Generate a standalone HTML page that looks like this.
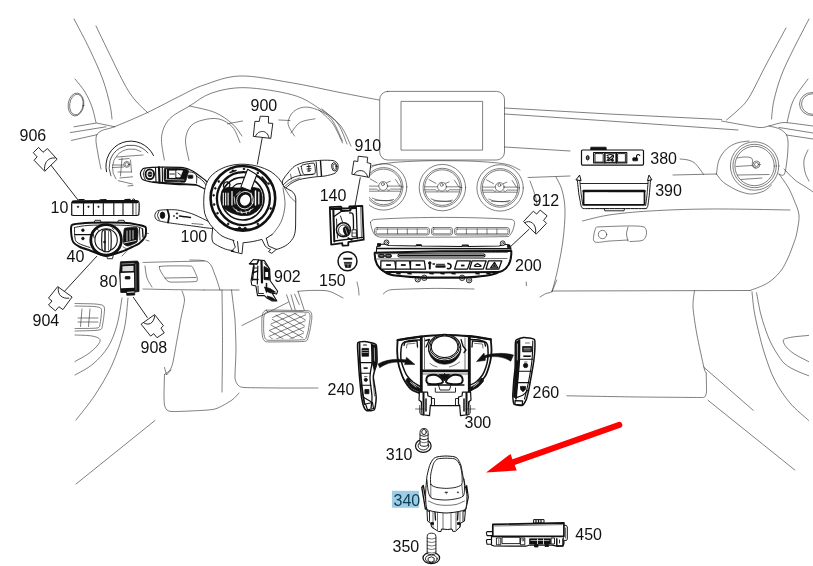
<!DOCTYPE html>
<html lang="en">
<head>
<meta charset="utf-8">
<title>Dashboard switches diagram</title>
<style>
html,body{margin:0;padding:0;background:#fff;}
body{width:813px;height:566px;overflow:hidden;font-family:"Liberation Sans",sans-serif;}
svg{display:block;will-change:transform;opacity:.999;}
.bg path,.bg line,.bg ellipse,.bg circle,.bg rect,.bg polyline{fill:none;stroke:#2a2a2a;stroke-width:.6;stroke-linecap:round;stroke-linejoin:round;}
.ld{stroke:#111;stroke-width:.9;fill:none;}
.lbl text{font-family:"Liberation Sans",sans-serif;font-size:16px;fill:#111;}
.con path{fill:#fff;stroke:#111;stroke-width:.9;stroke-linejoin:round;}
.con path.a{fill:none;}
.k{fill:#111;stroke:#111;stroke-width:.8;stroke-linejoin:round;}
.w{fill:#fff;stroke:#111;stroke-width:.9;stroke-linejoin:round;}
.n{fill:none;stroke:#111;stroke-width:.9;stroke-linejoin:round;stroke-linecap:round;}
.t{fill:none;stroke:#111;stroke-width:.6;stroke-linejoin:round;stroke-linecap:round;}
.wl{fill:none;stroke:#fff;stroke-width:.8;stroke-linecap:round;}
</style>
</head>
<body>
<svg width="813" height="566" viewBox="0 0 813 566">
<rect width="813" height="566" fill="#fff"/>

<!-- ===== BACKGROUND (car interior outline) ===== -->
<g class="bg" id="bg">
<!-- BG_LEFT_TOP -->
<path d="M74 19C76.7 24.2 85.2 39.8 90 50C94.8 60.2 99.7 70.8 103 80C106.3 89.2 108.5 98.5 110 105C111.5 111.5 111.7 116.7 112 119"/>
<path d="M96 26C98.3 30.8 105.2 45.2 110 55C114.8 64.8 120.8 77.5 125 85C129.2 92.5 131.2 95.3 135 100C138.8 104.7 145.8 110.8 148 113"/>
<path d="M75 79C76.7 81.2 82.2 87.3 85 92C87.8 96.7 90.2 101.9 92 107C93.8 112.1 95.3 119.9 96 122.5"/>
<ellipse cx="76" cy="104.500" rx="7.800" ry="11.500" transform="rotate(8 76 104.500)"/>
<ellipse cx="76.400" cy="104.500" rx="6.700" ry="10.400" transform="rotate(8 76 104.500)"/>
<path d="M74 126.8L96.5 123L114.8 126.8"/>
<path d="M70.3 132.6L106 126.8"/>
<path d="M71.5 140.4L97 134.7"/>
<path d="M101 169C100.5 166.5 98.8 159.2 98 154C97.2 148.8 95.5 141.8 96 138C96.5 134.2 97.8 132.9 101 131C104.2 129.1 107.2 129.6 115 126.5C122.8 123.4 136.7 117.6 147.5 112.5C158.3 107.4 170.6 100.6 180 96C189.4 91.4 194 88.3 204 85C214 81.7 225.7 76.4 240 76C254.3 75.6 273.3 79.8 290 82.5C306.7 85.2 325.2 89.6 340 92.5C354.8 95.4 372.5 98.8 379 100"/>
<path style="stroke-width:1;stroke:#1a1a1a" d="M106.5 171.7A25 25 0 0 1 153.5 155.5"/>
<path style="stroke-width:.8" d="M110.9 175.9A22 22 0 0 1 147.9 152.9"/>
<path d="M115.9 178.9A19 19 0 0 1 141 151.5"/>
<circle cx="126.8" cy="164.4" r="3"/>
<circle cx="126.8" cy="164.4" r="1.8"/>
<path d="M117 157L143 155"/>
<path d="M119 159.5L129 158.5"/>
<path d="M112.5 165L123.5 165"/>
<path d="M112.5 167.5L123.5 167"/>
<path d="M122 158L120.5 176"/>
<path d="M130.5 160L131.5 172"/>
<path d="M118 172L131.5 172"/>
<path d="M120 178L132.5 176.8"/>
<path d="M118.3 180.7L132.5 184"/>
<path d="M128 186L133 185.5"/>
<path d="M164.3 160C163.9 156.1 160.7 143.4 161.6 136.5C162.5 129.6 164.9 123.9 169.6 118.8C174.3 113.7 182.6 110.3 189.6 106C196.6 101.7 202.6 96 211.8 93C221 90 231.5 87.4 245 87.7C258.5 88 280.5 91.5 293 95C305.5 98.5 312.2 104 320 109C327.8 114 334.8 118.8 340 125C345.2 131.2 349.2 142.5 351 146"/>
<path d="M319 110C321.3 112.3 329.1 118.5 333 124C336.9 129.5 340.9 139.8 342.5 143"/>
<path d="M322 109C324.7 111.5 333.8 118.2 338 124C342.2 129.8 345.5 140.7 347 144"/>
<path d="M189 160.4C188.4 157 185.2 145.7 185.5 140C185.8 134.3 187.9 129.3 190.8 126C193.7 122.7 198.3 121.2 203 120C207.7 118.8 214.1 117.8 219 119C223.9 120.2 229 123.1 232.5 127C236 130.9 238.8 139.9 240 142.5"/>
<path d="M189.6 106C193.8 107.1 207.8 109.5 215 112.5C222.2 115.5 228 120.1 232.5 124C237 127.9 240.4 134 242 136"/>
<path d="M227.5 123.8L242.5 121"/>
<path d="M278.8 120L290 120.5"/>
<path d="M294.5 136C293.4 133.8 287.9 127.2 288 123C288.1 118.8 291.3 113.1 295 110.5C298.7 107.9 304.2 106.3 310 107.5C315.8 108.7 324.6 111.9 330 117.5C335.4 123.1 340.4 137.1 342.5 141"/>
<path d="M291 133C292.5 131.2 296 124.9 300 122.5C304 120.1 312.5 119.4 315 118.8"/>
<rect x="379.700" y="91.400" width="124.800" height="68.600" rx="8"/>
<rect x="401.400" y="101.400" width="81.200" height="48.700"/>
<!-- BG_LOWLEFT -->
<path d="M75 303.5C77.7 303.6 91.3 303.7 95 304C98.7 304.3 101.7 304.7 103 305.5C104.3 306.3 104.6 307.4 104.5 310C104.4 312.6 103.2 322.3 102.5 325C101.8 327.7 102.7 329.2 99 330C95.3 330.8 78.2 330.9 75 331"/>
<path d="M75 306C77.5 306.1 90.6 306.2 94 306.5C97.4 306.8 99.5 307.3 100.5 308C101.5 308.7 101.6 309.9 101.5 312C101.4 314.1 100.6 321.9 100 324C99.4 326.1 100.3 327.4 97 328C93.7 328.6 77.9 328.4 75 328.5"/>
<path d="M82 309L80.5 326.5"/>
<path d="M90 309L88.5 326.5"/>
<path d="M78 318L98 318"/>
<path d="M78 322L98 322"/>
<path d="M75 335C77.8 335.2 87.8 335.2 92 336C96.2 336.8 99.2 337.8 100 339.5C100.8 341.2 99 343.6 97 346C95 348.4 91.7 351.4 88 354C84.3 356.6 77.2 360.2 75 361.5"/>
<path d="M128 298C127.3 303.3 126.7 318.8 124 330C121.3 341.2 116.8 354.2 112 365C107.2 375.8 101 385.8 95 395C89 404.2 79.2 415.8 76 420"/>
<path d="M122 298C121.2 302.5 119.3 316.8 117 325C114.7 333.2 112 340.5 108 347C104 353.5 98.5 359.3 93 364C87.5 368.7 78 373.2 75 375"/>
<path d="M143 262.5C144.1 262.5 155.9 262.1 160 262C164.1 261.9 201.1 261.1 204 261"/>
<path d="M143 289C144.5 289 160.9 289.4 165 289.5C169.1 289.6 201.4 290 204 290"/>
<path d="M145 266C145.3 268 145.8 274.5 147 278C148.2 281.5 151.2 285.5 152 287"/>
<path d="M159.5 266.5C161.6 265.5 187.2 265.9 190 266C192.8 266.1 192.4 267.1 193 268C193.6 268.9 196.8 275.9 197 277C197.2 278.1 198.2 281.1 196 281.5C193.8 281.9 172.6 282.3 170 282C167.4 281.7 165.9 279.3 165 278C164.1 276.7 157.4 267.5 159.5 266.5Z"/>
<path d="M165 278L196 277.5"/>
<path d="M204 290L239 290"/>
<path d="M182 291C182.3 292.2 184.6 296.4 184.5 300C184.4 303.6 182 312.7 181 318C180 323.3 178.1 334.1 177 340C175.9 345.9 173.9 358 173 362C172.1 366 171.1 368.3 170 370C168.9 371.7 165.2 373.9 164.5 374.5"/>
<path d="M164.5 367.5L166.5 375L171 370"/>
<path d="M164.5 374.5C164.4 376.9 164 391.4 164 395C164 398.6 164.2 403.2 164.5 405C164.8 406.8 166.1 409.2 167 410C167.9 410.8 169.3 411.4 172 411.5C174.7 411.6 185 411.3 190 411C195 410.7 210.1 410.3 215 409C219.9 407.7 229.2 401.9 232 400C234.8 398.1 238.2 393.8 239 393"/>
<path d="M155 420.5L76 484"/>
<path d="M190 260C193 260.3 203.8 259.5 208 262C212.2 264.5 213 270.3 215 275C217 279.7 219.2 287.5 220 290"/>
<path d="M222 290C222.1 298.3 222.5 323 222.5 340C222.5 357 222.1 383.3 222 392"/>
<path d="M231.5 290C231.8 293 234.6 314 235 320C235.4 326 236 344.2 236 350C236 355.8 234.8 374.5 235 378C235.2 381.5 237.1 384.1 238 385C238.9 385.9 239.8 387.2 244 387.5C248.2 387.8 272.6 387.9 280 388C287.4 388.1 314.2 388 318 388"/>
<path d="M242 325.5L288.3 302.2"/>
<path d="M266.5 310.2C268.9 309.9 282.8 310.2 287 310.3C291.2 310.4 305.9 310.5 308.4 310.8C310.8 311.1 311.2 312.8 311.5 313.5C311.8 314.2 311.9 316.7 311.8 318.3C311.7 319.9 310.5 327.8 310 330C309.5 332.2 307.9 339 307.2 340.1C306.5 341.2 305.2 341.3 303 341.5C300.8 341.7 288.6 341.8 285 341.8C281.4 341.8 268.7 342.1 266.5 341.8C264.3 341.5 263.5 339.6 263 338.5C262.5 337.4 262 332.9 261.9 330.9C261.8 328.9 261.8 320.1 261.9 318.3C262 316.5 262.5 313.8 263 313C263.5 312.2 264.1 310.5 266.5 310.2Z"/>
<path d="M267.5 311.8C269.7 311.6 283 311.8 287 311.8C291 311.9 305.1 312 307.4 312.3C309.7 312.6 309.5 313.9 309.8 314.5C310.1 315.1 310.1 316.9 310 318.5C309.9 320.1 308.7 328 308.3 330C307.9 332 306.4 337.5 305.8 338.5C305.2 339.5 304.6 339.6 302.5 339.8C300.4 340 288.5 340.2 285 340.2C281.5 340.2 269.5 340.5 267.5 340.2C265.5 339.9 265.1 338.4 264.7 337.5C264.3 336.6 263.8 332.8 263.7 330.9C263.6 329 263.6 320.2 263.7 318.5C263.8 316.8 264.3 314.7 264.7 314C265.1 313.3 265.3 312 267.5 311.8Z"/>
<path d="M272 311.3L303 311.5" style="stroke-width:1.200;stroke:#888"/>
<clipPath id="pedalclip"><path d="M272.500 316.500L279 312.800L306.200 313.500L303.200 338.600L271.500 339L268 335.500Z"/></clipPath>
<path clip-path="url(#pedalclip)" d="M262 280.5 L312 311M262 287 L312 317.5M262 293.5 L312 324M262 300 L312 330.5M262 306.5 L312 337M262 313 L312 343.5M262 319.5 L312 350M262 326 L312 356.5M262 332.5 L312 363M262 339 L312 369.5M262 345.5 L312 376M262 352 L312 382.5M262 322 L312 300.5M262 327.8 L312 306.3M262 333.6 L312 312.1M262 339.4 L312 317.9M262 345.2 L312 323.7M262 351 L312 329.5M262 356.8 L312 335.3M262 362.6 L312 341.1M262 368.4 L312 346.9M262 374.2 L312 352.7M262 380 L312 358.5"/>
<path d="M286.6 294.8L291.7 309.7"/>
<path d="M291.1 294.8L295.2 309.7"/>
<path d="M294.6 294.2L299.2 304.5"/>
<path d="M298 291.3L304.3 310.2"/>
<path d="M298 291.3C299.2 291.2 302.2 290.9 305.5 290.7C308.8 290.5 313.9 290.3 318 290.4C322.1 290.5 325.8 290.2 330 291.5C334.2 292.8 340.8 296.9 343 298"/>
<path d="M357 282C357.2 283.2 358.2 286.8 358.5 289C358.8 291.2 358.9 294 359 295"/>
<path d="M383.3 294C383.7 293.6 385.8 291.5 387 291C388.2 290.5 388.4 289.8 394 289.5C399.6 289.2 425.4 288.5 434.7 288.4C444 288.3 469.4 288.9 474 289"/>
<path d="M526.2 282L526.4 285.7"/>
<!-- BG_MID -->
<clipPath id="v1clip"><rect x="369" y="155" width="60" height="60"/></clipPath>
<g clip-path="url(#v1clip)">
<circle cx="383.6" cy="186.9" r="23.2"/>
<circle cx="383.6" cy="186.9" r="19.3"/>
<circle cx="383.6" cy="186.9" r="17.8"/>
<circle cx="383.2" cy="186" r="4.4"/>
<circle cx="382.9" cy="184.1" r="1.5"/>
<path d="M366.1 186.1L378.6 186.1"/>
<path d="M387.6 186.1L401.1 186.1"/>
<path d="M366.1 189.1L376.6 189.1L378.1 190.4L379.6 189.9"/>
<path d="M387.1 189.9L389.1 190.4L390.6 189.1L401.1 189.1"/>
<path d="M366.8 191.2L400.4 191.2"/>
<path d="M370.1 178.9L377.1 182.7"/>
<path d="M386.6 182.7L390.3 181.2"/>
<path d="M395.6 179.5L399.8 185.9"/>
<path d="M372.3 198.1C373.4 198.4 376.2 199.8 378.6 200.2C381 200.6 384.1 200.8 386.6 200.7C389.1 200.6 392.4 199.6 393.6 199.4"/>
<path d="M374.9 200.2L392.4 200.8"/>
</g>
<g>
<circle cx="442.4" cy="187.6" r="23.2"/>
<circle cx="442.4" cy="187.6" r="19.3"/>
<circle cx="442.4" cy="187.6" r="17.8"/>
<circle cx="442" cy="186.7" r="4.4"/>
<circle cx="441.7" cy="184.8" r="1.5"/>
<path d="M424.9 186.8L437.4 186.8"/>
<path d="M446.4 186.8L459.9 186.8"/>
<path d="M424.9 189.8L435.4 189.8L436.9 191.1L438.4 190.6"/>
<path d="M445.9 190.6L447.9 191.1L449.4 189.8L459.9 189.8"/>
<path d="M425.6 191.9L459.2 191.9"/>
<path d="M428.9 179.6L435.9 183.4"/>
<path d="M445.4 183.4L449.1 181.9"/>
<path d="M454.4 180.2L458.6 186.6"/>
<path d="M431.1 198.8C432.1 199.1 435 200.5 437.4 200.9C439.8 201.3 442.9 201.5 445.4 201.4C447.9 201.3 451.2 200.3 452.4 200.1"/>
<path d="M433.7 200.9L451.2 201.5"/>
</g>
<g>
<circle cx="500.1" cy="187.9" r="23.2"/>
<circle cx="500.1" cy="187.9" r="19.3"/>
<circle cx="500.1" cy="187.9" r="17.8"/>
<circle cx="499.7" cy="187" r="4.4"/>
<circle cx="499.4" cy="185.1" r="1.5"/>
<path d="M482.6 187.1L495.1 187.1"/>
<path d="M504.1 187.1L517.6 187.1"/>
<path d="M482.6 190.1L493.1 190.1L494.6 191.4L496.1 190.9"/>
<path d="M503.6 190.9L505.6 191.4L507.1 190.1L517.6 190.1"/>
<path d="M483.3 192.2L516.9 192.2"/>
<path d="M486.6 179.9L493.6 183.7"/>
<path d="M503.1 183.7L506.8 182.2"/>
<path d="M512.1 180.5L516.3 186.9"/>
<path d="M488.8 199.1C489.9 199.4 492.7 200.8 495.1 201.2C497.5 201.6 500.6 201.8 503.1 201.7C505.6 201.6 508.9 200.6 510.1 200.4"/>
<path d="M491.4 201.2L508.9 201.8"/>
</g>
<path d="M372 165.5C375.8 165 387 163.1 395 162.3C403 161.6 411.7 161.3 420 161C428.3 160.7 435.8 160.6 445 160.7C454.2 160.8 465 160.8 475 161.3C485 161.9 497.5 162.6 505 164C512.5 165.4 517.5 169 520 170"/>
<path d="M370.500 222.500C371 220.500 372.500 219.600 374.800 219.400C400 217.800 425 217.400 443.700 217.400C465 217.400 490 217.900 510.700 219.400C513 219.600 514.400 220.500 514.600 222.500C514 229 511.500 234 508.700 236.500C490 237.200 400 237.400 379.800 237.100C377 236.500 375 235.300 373.900 233.600C372 230 371 226.500 370.500 222.500Z"/>
<rect x="374.500" y="227.500" width="55" height="7.500" rx="2.500"/>
<rect x="376" y="229" width="52" height="4.800" rx="1.500"/>
<rect x="431.500" y="227.500" width="21" height="7.500" rx="2"/>
<rect x="433" y="229" width="18" height="4.800" rx="1"/>
<rect x="454.500" y="227.500" width="55" height="7.500" rx="2.500"/>
<rect x="456" y="229" width="52" height="4.800" rx="1.500"/>
<path d="M387.6 229L387.6 233.8"/>
<path d="M397.5 229L397.5 233.8"/>
<path d="M407.3 229L407.3 233.8"/>
<path d="M417.2 229L417.2 233.8"/>
<path d="M466.4 229L466.4 233.8"/>
<path d="M477.2 229L477.2 233.8"/>
<path d="M487 229L487 233.8"/>
<path d="M496.9 229L496.9 233.8"/>
<!-- BG_RIGHT -->
<path d="M504.5 108L609 114L721.5 119.5"/>
<path d="M504.5 114L609 121L738 130"/>
<path d="M504.5 147L570 151"/>
<path d="M721.5 121C725.2 121.7 754.2 127 759 127.5C763.8 128 766.5 126.5 769 126C771.5 125.5 779.6 122.5 784 122.5C788.4 122.5 810.1 125.7 813 126"/>
<path d="M769 126C771.1 126.7 778.3 127.5 781.5 130C784.7 132.5 787.4 133.9 788 141C788.6 148.1 786.5 167 785 172.5C783.5 178 780 173.8 779 174"/>
<path d="M779 127.5L813 133"/>
<path d="M786.5 135L813 139"/>
<path d="M786 28C782.8 33.8 773.2 51.4 767 63C760.8 74.6 753.8 89.7 749 97.5C744.2 105.3 741.8 106.2 738 110C734.2 113.8 728.4 118.3 726.5 120"/>
<path d="M809 19C806.3 24.2 797.6 40.7 793 50C788.4 59.3 784.7 66.7 781.5 75C778.3 83.3 775.7 92.7 774 100C772.3 107.3 771.9 115.8 771.5 119"/>
<path d="M808 79C806.2 81.5 799.8 89.7 797 94C794.2 98.3 793.2 100.2 791.5 105C789.8 109.8 787.8 119.6 787 122.5"/>
<ellipse cx="812" cy="104" rx="12.500" ry="11.500"/>
<ellipse cx="813" cy="104" rx="11.500" ry="10.300"/>
<circle cx="754.6" cy="166" r="24.2"/>
<circle cx="754.6" cy="166" r="21.7"/>
<circle cx="754.6" cy="166" r="19.7"/>
<circle cx="756.5" cy="164.5" r="3.5"/>
<circle cx="756.5" cy="164.5" r="2"/>
<path d="M737 158C738.3 157.8 742.5 156.9 745 157C747.5 157.1 750.8 157 752 158.5C753.2 160 751.8 164.3 752.5 166C753.2 167.7 755.4 168.1 756 168.5"/>
<path d="M736 166.5L752 165.5"/>
<path d="M737.5 175L769 174.5"/>
<path d="M741 179.5L762 178"/>
<path d="M716.5 174C716.9 171.7 717.3 164.2 719 160C720.7 155.8 723.5 151.8 726.5 149C729.5 146.2 733.2 144.3 737 143C740.8 141.7 747 141.3 749 141"/>
<path d="M716.5 174C717.4 175.2 719.9 179 722 181C724.1 183 726 184.2 729 186C732 187.8 736.2 190.2 740 191.5C743.8 192.8 747.5 194.1 751.5 194C755.5 193.9 760.7 192.5 764 191C767.3 189.5 770.2 186 771.5 185"/>
<path d="M673 175L716.5 174"/>
<path d="M680 159C681.3 159.2 685.7 159.4 688 160C690.3 160.6 692.2 161.2 694 162.5C695.8 163.8 697.4 166 699 168C700.6 170 702.8 173.4 703.5 174.5"/>
<path d="M779 174C780.5 176.2 785.5 182.7 788 187C790.5 191.3 792.2 195.3 794 200C795.8 204.7 798.5 209.7 799 215C799.5 220.3 797.8 227.4 797 232C796.2 236.6 795.5 238.2 794 242.5C792.5 246.8 790.1 253.4 788 258C785.9 262.6 784 266.5 781.5 270C779 273.5 775.9 276.5 773 279C770.1 281.5 767.8 283.1 764 285C760.2 286.9 752.3 289.6 750 290.5"/>
<path d="M784 169C785.8 170.8 791.2 176.9 795 180C798.8 183.1 803.5 185.5 806.5 187.5C809.5 189.5 811.9 191.2 813 192"/>
<path d="M808 150C807.3 151.7 804.5 156.3 804 160C803.5 163.7 804.2 168.5 805 172C805.8 175.5 808.3 179.5 809 181"/>
<path d="M582.5 221C586.9 220 597.8 216.7 609 215C620.2 213.3 633.3 212 650 211C666.7 210 685.7 209.2 709 209C732.3 208.8 776.5 209.8 790 210"/>
<path d="M597 227C601.7 226.8 617.5 226.1 625 226C632.5 225.9 638.5 225.9 642 226.5C645.5 227.1 645.3 227.9 646 229.5C646.7 231.1 646.7 234.2 646 236C645.3 237.8 644.7 239.6 642 240.5C639.3 241.4 632 241.3 630 241.5"/>
<path d="M628 227C627.8 228.2 626.5 231.7 626.5 234C626.5 236.3 627.8 239.8 628 241"/>
<path d="M596 227.5C595.7 228.6 594.2 231.6 594 234C593.8 236.4 592.3 240.8 595 242C597.7 243.2 604.5 241.3 610 241C615.5 240.7 625 240.2 628 240"/>
<circle cx="602.5" cy="234.5" r="4.2"/>
<path d="M528 177.5L570 176"/>
<path d="M556 177C557 179.2 560.5 184.5 562 190C563.5 195.5 564.8 201.7 565 210C565.2 218.3 564.2 230.3 563 240C561.8 249.7 559.8 259.3 558 268C556.2 276.7 553 288 552 292"/>
<path d="M530 181C530.8 183.3 533.8 191 535 195C536.2 199 536.7 203.3 537 205"/>
<path d="M551.8 291L750 290.5"/>
<path d="M540 297C540.6 296.6 544.8 294.1 546 293.5C547.2 292.9 550.7 292.9 551.8 291.5C552.8 290.1 556.3 281.1 556.8 280"/>
<path d="M694.5 290.7C694.3 292.9 692.7 301.1 693 307C693.3 312.9 695.5 327 697 335C698.5 343 702.7 362.2 703.9 367.3C705.1 372.4 705.9 372.2 706.2 373"/>
<path d="M706.2 373C706.2 374.6 706.6 390 706.5 392C706.4 394 705.5 396 705 396.5C704.5 397 705.4 397.5 700 397.5C694.6 397.5 651.1 397.1 640 397C628.9 396.9 573 395.9 566.9 395.8"/>
<path d="M703.9 367.3L753.2 410.3"/>
<path d="M707.9 400.2L794.8 470"/>
<path d="M752 291.8C752.3 294.8 753 303.6 754 310C755 316.4 756.5 322.9 758.3 330.4C760.1 337.9 762.2 346.6 765 355C767.8 363.4 770.8 372.7 775 380.7C779.2 388.7 784.4 396.4 790 403C795.6 409.6 805.5 417.5 808.6 420.4"/>
<path d="M756.6 292.8C757.3 296.5 759 307.6 761 315C763 322.4 765.8 330.8 768.3 337C770.8 343.2 773.2 347.5 776 352C778.8 356.5 781.5 360.8 785 364C788.5 367.2 793.1 369.1 797 371C800.9 372.9 806.7 374.9 808.6 375.7"/>
<path d="M808.6 335.4C804.6 335.9 793.5 336.5 788.5 337.8C783.5 339.1 782.8 339.1 783.5 342C784.2 344.9 786.9 348.3 791.9 352.2C796.9 356.1 805.3 359.7 808.6 361.6"/>
</g>
<!-- ===== COMPONENTS ===== -->
<g id="components">
<g id="c100">
<path class="w" d="M140.4 173.7C140.4 172.7 141.1 171.1 141.5 170.5C141.9 169.9 142.7 168.7 143.9 168.3C145.1 167.9 150.1 167.4 152 167.3C153.9 167.2 157 167.2 160.6 167.2C164.2 167.2 179.4 167.1 183.2 167.6C187 168.1 191.3 170.4 193.1 171.3C194.9 172.2 197.4 174.3 199 175.5C200.6 176.7 205.9 180.2 207 182C208.1 183.8 209.2 189.9 208.5 190.5C207.8 191.1 202.6 187.7 201 187C199.4 186.3 198.1 185.1 195.1 184.8C192.1 184.5 180.2 184.6 175.4 184.3C170.6 184 157.2 182.7 153.7 182.3C150.2 181.9 146.4 180.9 145 180.5C143.6 180.1 142.4 179.5 141.9 178.7C141.4 177.9 140.4 174.7 140.4 173.7Z" style="stroke-width:1.200"/>
<path class="n" d="M145.3 168.5C145 169.4 143.3 172.1 143.3 174C143.3 175.9 145.1 179 145.5 180"/>
<ellipse class="w" cx="149.800" cy="174.300" rx="4.300" ry="4.900" style="stroke-width:1.900"/>
<ellipse class="k" cx="150" cy="174.300" rx="2" ry="2.500"/>
<path class="wl" d="M148.8 174.3L151.3 174.3" style="stroke-width:.6"/>
<path class="n" d="M155.5 167.5L156 182" style="stroke-width:1.100"/>
<path class="n" d="M159 167.3L159.5 182.5" style="stroke-width:2.200"/>
<path class="n" d="M162.3 167.3L162.5 183" style="stroke-width:1.100"/>
<path class="k" d="M164.5 168.5C165 167.9 174 168.3 175 168.3C176 168.3 184.3 168.9 185 169C185.7 169.1 188.5 170.2 188.5 170.8C188.5 171.5 185.9 181.4 185.2 182C184.5 182.6 176 181.8 175 181.8C174 181.8 165 181.9 164.5 181.2C164 180.5 164 169.1 164.5 168.5Z"/>
<rect class="wl" x="169.5" y="171" width="5.5" height="6.5" style="fill:#fff"/>
<path class="n" d="M170 174L174.5 174" style="stroke-width:.9"/>
<path class="wl" d="M177 170.8L182.5 170.8L180 177L177 177Z" style="fill:#fff"/>
<path class="n" d="M178 173L180.5 175" style="stroke-width:.9"/>
<path class="wl" d="M166 179.5L184 180" style="stroke-width:.6"/>
<path class="wl" d="M166.5 169.5L166.5 179" style="stroke-width:.7"/>
<path class="n" d="M186.5 172C187.6 172.1 191.3 171.8 193 172.5C194.7 173.2 195.9 174.2 196.5 176C197.1 177.8 196.5 181.8 196.5 183"/>
<rect class="k" x="188.2" y="175.2" width="4.6" height="3.1" rx="0.5"/>
<path class="n" d="M196.5 176C197.6 176.8 201.2 179.2 203 181C204.8 182.8 206.3 185.6 207 186.5"/>
<path class="n" d="M153 182L196 184.7" style="stroke-width:1.500"/>
<path class="w" d="M154.8 215.5C154.8 214.2 156.1 211.6 157.6 210.8C159.1 210 163.4 209.9 166 209.8C168.6 209.7 174 209.5 177.4 210C180.8 210.5 187.7 212.3 191.5 213.6C195.3 214.9 202.6 218.5 205.6 220C208.6 221.5 212.9 223.4 214 224.5C215.1 225.6 216.5 228.3 213.5 228.5C210.5 228.7 197.3 226.5 191.5 225.8C185.7 225.1 174.8 223.7 170.3 223C165.8 222.3 159.7 221.3 157.6 220.3C155.5 219.3 154.8 216.8 154.8 215.5Z"/>
<path class="n" d="M159 211.5C158.8 212.2 157.4 214.1 157.5 215.5C157.6 216.9 159.2 219.2 159.5 220"/>
<ellipse class="k" cx="162.500" cy="215.300" rx="2.300" ry="3.200"/>
<path class="n" d="M167.5 210C167.8 211 168.9 213.9 169 216C169.1 218.1 168.2 221.4 168 222.5" style="stroke-width:1.8"/>
<circle class="k" cx="177" cy="213.5" r="0.7"/>
<circle class="k" cx="177" cy="218" r="0.7"/>
<circle class="k" cx="174" cy="216" r="0.5"/>
<path class="n" d="M179.5 216L191 217.5" style="stroke-width:1.5;stroke-dasharray:2 1"/>
<path class="t" d="M192 223.5L203 224.5"/>
<path class="w" d="M282.5 181C283 178.9 286.4 175 288 173C289.6 171 292.4 167.6 294.6 166.2C296.8 164.8 300.9 163.1 304.4 162.3C307.9 161.5 317.4 160.5 321.2 160.3C325 160.1 330.8 160.2 333 160.6C335.2 161 336.8 162.4 337.5 163.5C338.2 164.6 338.3 167.2 338 168.5C337.7 169.8 336.7 172.2 335 173.2C333.3 174.2 327.8 175.5 325 176C322.2 176.5 317.7 176.5 314.3 177C310.9 177.5 302.6 178.6 299.5 179.5C296.4 180.4 293 182.3 291 183.5C289 184.7 285.6 188.8 284.5 188.5C283.4 188.2 282 183.1 282.5 181Z"/>
<path class="n" d="M283.5 184.5C284.8 183.5 288.2 180 291 178.5C293.8 177 296.3 176.2 300 175.5C303.7 174.8 310.8 174.7 313 174.5"/>
<path class="t" d="M284.5 186.5C285.8 185.6 289.4 182.4 292 181C294.6 179.6 298.7 178.5 300 178"/>
<path class="n" d="M301.2 166.5C301.2 165.9 301.9 165.1 303 164.8C304.1 164.5 313 162.6 314 163.3C315 164 315.8 172.6 315 173.5C314.2 174.4 305.5 174.8 304.5 174.7C303.5 174.6 302.8 172.7 302.5 172C302.2 171.3 301.2 167.1 301.2 166.5Z"/>
<path class="n" d="M298 167.5L300.5 175"/>
<path class="t" d="M290.5 174L291.5 179"/>
<path class="n" d="M316.2 162L317.2 175.5"/>
<path class="n" d="M320.5 161L321.5 176" style="stroke-width:1.4"/>
<ellipse class="n" cx="334.300" cy="166.800" rx="2.600" ry="4.200" transform="rotate(-8 334.300 166.800)"/>
<ellipse class="t" cx="334.500" cy="166.800" rx="1.500" ry="2.800" transform="rotate(-8 334.300 166.800)"/>
<path class="n" d="M307 166.5L310.5 166.3"/>
<path class="n" d="M307 169L311 168.7"/>
<path class="n" d="M308.8 165L309 171.5"/>
<path class="n" d="M307.5 171L310.5 170.7"/>
<path class="w" d="M203.800 199C204 186 208 178.500 212.700 174.400C220 168 230 164.500 240.900 164.200C252 164 263 167 271 171.800C277 175.500 281.500 181 284 187L291.500 191C294.500 193 295.800 196 295.800 200L295.600 226C295.500 232 294.500 236 292.900 238.300C291 241.500 288.500 244 285.100 246C282 247.700 279 248.800 276.300 249.400L271.800 253.300L268.500 251.600L270.700 249.400C268 248.500 266.500 247.500 265.200 246L261.900 239.400C256 241 250 242.300 243.100 242.700L242 253.800L230.900 251.100L234.200 251.600L233 250.500C229 250.300 226 249.500 223.100 248.200C219 246.500 215.500 244.500 213.200 242.700C212 240.500 211.800 238 212 235L212.700 227.400C209 223.500 206.500 219 204.700 213.300C203.800 208 203.600 204 203.800 199Z"/>
<path class="t" d="M283 188C283.3 190.8 285.3 199.3 285 205C284.7 210.7 283.2 217 281 222C278.8 227 273.5 232.8 272 235"/>
<path class="t" d="M284 187C285 188.6 288.1 194 290 196.5C291.9 199 294.7 201.1 295.6 202"/>
<path class="n" d="M212.7 227.4C214.2 228.8 218.4 233.8 222 236C225.6 238.2 232 239.8 234 240.5"/>
<path class="n" d="M266.3 238.3L272 234.5"/>
<path class="n" d="M233.1 240.5L235.3 247.1L232 250.8"/>
<path class="n" d="M237.5 241.6L238.6 252"/>
<path class="n" d="M266.3 238.3L268.5 246L276.3 249.4"/>
<circle class="n" cx="242.9" cy="198.3" r="32.3" style="stroke-width:2.600;fill:#fff"/>
<circle class="n" cx="243.4" cy="198.6" r="26.5" style="stroke-width:2.300"/>
<circle class="n" cx="242.7" cy="198.7" r="21.3" style="stroke-width:1.700"/>
<circle class="k" cx="214.1" cy="204.5" r="0.9"/>
<circle class="k" cx="213.7" cy="195.3" r="0.9"/>
<circle class="k" cx="215.3" cy="188.3" r="0.9"/>
<circle class="k" cx="218.8" cy="181.5" r="0.9"/>
<circle class="k" cx="232.9" cy="170.7" r="0.9"/>
<circle class="k" cx="244" cy="168.9" r="0.9"/>
<circle class="k" cx="257.8" cy="172.9" r="0.9"/>
<circle class="k" cx="268.5" cy="183.7" r="0.9"/>
<circle class="k" cx="270.7" cy="208.5" r="0.9"/>
<circle class="k" cx="257.8" cy="223.9" r="0.9"/>
<circle class="k" cx="228.2" cy="223.9" r="0.9"/>
<circle class="k" cx="217.5" cy="213.2" r="0.9"/>
<path class="n" d="M234 229L250 229.6" style="stroke-width:2.200"/>
<circle class="k" cx="239.5" cy="228.2" r="1.3"/>
<circle class="k" cx="245.1" cy="228.5" r="1.3"/>
<path class="n" d="M219.5 220L227.5 226.5" style="stroke-width:1.800"/>
<path class="n" d="M262 177L267 183" style="stroke-width:1.600"/>
<path class="n" d="M230 172.5L236 170.5" style="stroke-width:1.500"/>
<path class="k" d="M221 196C221.1 194.5 221.7 191 222.5 190C223.3 189 226.2 187.7 228 187.5C229.8 187.3 235.2 188 238 188C240.8 188 249.5 187.4 252 187.5C254.5 187.6 258.3 188 259.5 189C260.7 190 261.8 194.1 262 196C262.2 197.9 262.1 203.2 261.5 205C260.9 206.8 258.3 209.8 257 211C255.7 212.2 251.9 214.5 250 215C248.1 215.5 243.1 215.7 241 215.5C238.9 215.3 233.9 213.8 232 213C230.1 212.2 225.7 209.7 224.5 208.5C223.3 207.3 221.9 204.5 221.5 203C221.1 201.5 220.9 197.5 221 196Z"/>
<path class="n" d="M223.5 187C223.6 186.4 223.3 184.3 224 183.5C224.7 182.7 226.5 181.8 227.5 182C228.5 182.2 229.9 183.2 230 184.5C230.1 185.8 228.3 188.7 228 189.5" style="stroke-width:1.300"/>
<path class="n" d="M231 189C231.8 188.2 234.3 185.4 236 184.5C237.7 183.6 240.2 183.7 241 183.5" style="stroke-width:1.300"/>
<path class="wl" d="M223.3 193L223.3 205" style="stroke-width:1.100"/>
<path class="wl" d="M225.7 193L225.7 205" style="stroke-width:1.100"/>
<path class="wl" d="M228.1 193L228.1 205" style="stroke-width:1.100"/>
<path class="wl" d="M232 191.5L232 205" style="stroke-width:1.200"/>
<path class="wl" d="M255.5 191L255.5 205" style="stroke-width:1.500"/>
<path class="wl" d="M258.8 192L258.8 204" style="stroke-width:1.200"/>
<path class="wl" d="M233 207.5C233.8 208.2 235.8 210.7 238 211.5C240.2 212.3 243.5 212.7 246 212.2C248.5 211.7 251.8 209.1 253 208.5"/>
<path class="wl" d="M236.5 195L240 191.5"/>
<path class="wl" d="M234.2 197L235 204"/>
<path class="wl" d="M251 193L252.2 203"/>
<path class="wl" d="M236 209.5L237.5 212"/>
<path class="wl" d="M241 211L242 213.5"/>
<path class="wl" d="M246 211L246.5 213.5"/>
<path class="wl" d="M250.5 209.5L249.5 212"/>
<ellipse class="wl" cx="245" cy="200.200" rx="8.300" ry="8.800" transform="rotate(20 245 200.200)"/>
<ellipse class="w" cx="245.100" cy="200.100" rx="5.600" ry="6.300" transform="rotate(25 245.100 200.100)" style="stroke-width:1.300"/>
<path class="w" d="M247.6 169.2L256.8 174.7L250.7 190.8L240.8 187.1Z" style="stroke-width:1.100"/>
</g>
<g id="c10">
<path class="w" d="M72.5 201.5C72.7 201.3 71.8 200.8 75 200.8C78.2 200.8 132.8 200.5 136 200.6C139.2 200.7 138.6 201.7 138.8 202C139 202.3 139.2 205.4 139.2 206C139.2 206.6 138.9 213 138.8 213.5C138.7 214 139.8 215.3 136.5 215.4C133.2 215.5 76.7 215.5 73.5 215.4C70.3 215.3 71.9 214.1 71.8 213.5C71.7 212.9 71.7 204.6 71.7 204C71.7 203.4 72.3 201.7 72.5 201.5Z" style="stroke-width:1.200"/>
<path class="n" d="M73 202.2L137 202" style="stroke-width:2.600"/>
<path class="n" d="M83.5 203.5L83.5 214.5" style="stroke-width:1.100"/>
<path class="n" d="M93.4 203.5L93.4 214.5" style="stroke-width:1.100"/>
<path class="n" d="M103.3 203.5L103.3 214.5" style="stroke-width:1.100"/>
<path class="n" d="M113.8 203.5L113.8 214.5" style="stroke-width:1.100"/>
<path class="n" d="M123 203.5L123 214.5" style="stroke-width:1.100"/>
<path class="n" d="M132.9 203.5L132.9 214.5" style="stroke-width:1.100"/>
<circle class="k" cx="78" cy="206.8" r="0.7"/>
<circle class="k" cx="88.5" cy="206.8" r="0.7"/>
<circle class="k" cx="98.5" cy="206.8" r="0.7"/>
<path class="t" d="M136 203.5L136 214.5"/>
<path class="n" d="M79 199.8L84 199.6" style="stroke-width:1.400"/>
<path class="n" d="M100 199.8L106 199.6" style="stroke-width:1.200"/>
<path class="n" d="M125 199.6L130 199.5" style="stroke-width:1.400"/>
<circle class="n" cx="133.5" cy="199.8" r="1"/>
</g>
<g id="c40">
<path class="n" d="M94 222.5L95 220.3L100.5 220.3L101 222.5"/>
<path class="n" d="M117.5 222.5L118.5 220.3L124 220.3L124.5 222.5"/>
<path class="n" d="M106.4 255L107.5 258.7L112.5 258.7L113.5 254"/>
<path class="w" d="M71.2 227C71.4 225.8 71 224.9 73 224.5C75 224.1 85.8 223 90.9 222.8C96 222.6 119.5 222.6 124.3 222.8C129.1 223 137 224.6 139.1 225C141.2 225.4 144.8 226.5 145.5 227.1C146.2 227.7 146 230.1 146 231C146 231.9 146 235.2 145.3 236.5C144.6 237.8 140.6 242.3 139.1 243.5C137.6 244.7 131.7 247.2 130 248C128.3 248.8 124.4 250.7 122 251.5C119.6 252.3 109.2 256.1 106 256C102.8 255.9 92.6 251.4 90 250.5C87.4 249.6 81.7 247.8 80 247C78.3 246.2 74.3 243.6 73.5 242.5C72.7 241.4 71.7 237.6 71.5 236C71.3 234.4 71 228.2 71.2 227Z" style="stroke-width:2"/>
<path class="n" d="M74.5 227.5C77.1 227.1 81.8 225.7 90 225.3C98.2 224.9 116 225 124 225.3C132 225.6 134.9 226.4 138 227C141.1 227.6 141.8 228.7 142.5 229"/>
<path class="n" d="M74.5 228C74.6 229.7 74.4 235.5 75 238C75.6 240.5 75.5 241.4 78 243C80.5 244.6 88 246.8 90 247.5"/>
<path class="n" d="M75 234.6L91 234.6" style="stroke-width:1.200"/>
<circle class="k" cx="82.9" cy="230.2" r="1.3"/>
<circle class="k" cx="82.9" cy="238.5" r="1.3"/>
<path class="k" d="M124.5 228.5C125.4 227.4 135.6 227.3 136.5 227.5C137.4 227.7 138 230 138 231C138 232 137.7 241 137 242C136.3 243 128.9 245.9 128 246C127.1 246.1 123.7 244.7 123.5 243.5C123.3 242.3 123.6 229.6 124.5 228.5Z"/>
<path class="wl" d="M127 231L127 241"/>
<path class="wl" d="M130 230.5L130 240"/>
<path class="wl" d="M133 230.5L133 239"/>
<path class="wl" d="M124 243L136 240.5"/>
<path class="n" d="M139.5 228L140 240"/>
<path class="n" d="M142.5 229L143 237" style="stroke-width:1.400"/>
<path class="t" d="M145.5 233L148.5 233.5"/>
<path class="t" d="M146 240L149 241"/>
<path class="t" d="M123 247C123.7 247.5 127.2 248.5 127 250C126.8 251.5 122.8 255 122 256"/>
<g transform="translate(-.3 1)">
<circle class="w" cx="106.4" cy="238.9" r="15.3" style="stroke-width:2.800"/>
<circle class="n" cx="106.4" cy="238.9" r="11.2" style="stroke-width:1.100"/>
<path class="w" d="M102.2 232C102.3 230.5 103.1 229.6 103.5 229.3C103.9 229 106.2 228.6 106.7 228.6C107.2 228.6 109.6 229 110 229.3C110.4 229.6 111.2 230.5 111.3 232C111.4 233.5 111.4 245.5 111.3 247C111.2 248.5 110.4 249.7 110 250C109.6 250.3 107.2 250.8 106.7 250.8C106.2 250.8 103.9 250.3 103.5 250C103.1 249.7 102.3 248.5 102.2 247C102.1 245.5 102.1 233.5 102.2 232Z" style="stroke-width:1.100"/>
<path class="n" d="M105.3 230L105.3 249.5" style="stroke-width:1.500"/>
<path class="t" d="M108.8 230.5L108.8 249"/>
<circle class="k" cx="104.8" cy="241" r="0.9"/>
<path class="n" d="M93.5 233L94.5 237"/>
<path class="n" d="M97 227.5L99 229.5"/>
<path class="n" d="M104 224.3L108 224.3" style="stroke-width:1.300"/>
<path class="n" d="M112.5 227L114 228.5"/>
</g>
</g>
<g id="c80">
<path class="k" d="M120.5 261.8L137.5 261L138.8 263L139 291.5L134.7 292L134.7 295L126.8 295.3L126.5 292.5L120.8 292.5L119.6 273Z"/>
<path class="w" d="M122.5 266.3L133.5 265.8L133.5 271L122.3 271.3Z" style="fill:#ddd;stroke:none"/>
<path class="wl" d="M122 264L134 263.4" style="stroke-width:.5"/>
<path class="w" d="M120.5 273L134 272.5L134.2 287.8L121 288.3Z" style="stroke:none"/>
<rect class="k" x="125.2" y="276.5" width="4.8" height="2.5" rx="0.4"/>
<path class="wl" d="M127.5 292.3L134 292" style="stroke-width:1"/>
<path class="wl" d="M135.8 264L136 290" style="stroke-width:.4"/>
</g>
<g id="c140">
<path class="w" d="M329.8 207.2L341 206.7L342 208.5L349 208.2L349.5 206.3L362.3 205.8L363.7 239.7L348.3 242.2L348.3 245.3L342.5 245.6L342.3 243.2L331.2 244.6Z" style="stroke-width:1.800"/>
<path class="n" d="M331 209L340 208.7L342 211L350 210.5L351 208.2L356 208" style="stroke-width:2.200"/>
<path class="n" d="M333.3 209L334.3 241.5" style="stroke-width:2"/>
<path class="n" d="M356.3 208L357.3 238.5" style="stroke-width:1.300"/>
<path class="t" d="M360.6 207L361.5 238"/>
<path class="n" d="M334.5 241L362.5 237.3" style="stroke-width:1.300"/>
<path class="n" d="M334 216.5L341.8 211" style="stroke-width:1.300"/>
<path class="n" d="M336.5 219L337.5 238"/>
<path class="n" d="M340.5 216L342.5 222"/>
<path class="n" d="M349.5 213C350.1 213.2 352.3 211.8 353 214.5C353.7 217.2 353.4 226.6 353.5 229" style="stroke-width:1.300"/>
<rect class="n" x="352.4" y="229.8" width="4" height="7"/>
<path class="t" d="M352.4 233L356.4 233"/>
<circle class="w" cx="343.4" cy="229.8" r="7" style="stroke-width:1.500"/>
<circle class="n" cx="343.8" cy="230.2" r="5.3"/>
<ellipse class="k" cx="346.300" cy="231.200" rx="2.600" ry="4.800" transform="rotate(-18 346.300 231.200)"/>
<path class="wl" d="M345.5 228.5L347.3 234" style="stroke-width:.6"/>
<path class="n" d="M348 238L352 240" style="stroke-width:1.500"/>
</g>
<g id="c150">
<circle class="w" cx="347.5" cy="261.3" r="9.5" style="stroke-width:1.500"/>
<path class="n" d="M343.3 258.7L352.3 258.7" style="stroke-width:1.900;stroke-linecap:butt"/>
<path class="k" d="M344.2 262.4L351.6 262.4L350.4 267.4L345.6 267.4Z"/>
<path class="wl" d="M344.5 264L351.3 264" style="stroke-width:.5"/>
<path class="wl" d="M348 264.5L348 267" style="stroke-width:.5"/>
</g>
<g id="c902">
<path class="w" d="M253.3 259.5L264.4 260.6L269.7 269.1L270.2 280.7L274 286L277.6 291.3L276.6 294L272 293L276.8 300.9L271.8 300.9L266.5 297.7L264.4 295.6L257.5 295.6L255.9 286L251.7 285L251.1 280.7L253.8 264.3L249.5 263.8Z" style="stroke-width:1.100"/>
<path class="n" d="M249.5 263.8L257 264L258.5 260.2" style="stroke-width:1.600"/>
<path class="n" d="M261.5 261L262 282.5" style="stroke-width:2.200"/>
<path class="n" d="M257.8 266L257.3 284" style="stroke-width:1.200"/>
<path class="n" d="M253 268L257.5 268"/>
<path class="n" d="M252.5 273L257.5 271" style="stroke-width:1.400"/>
<path class="n" d="M252 279.5L258 279.5" style="stroke-width:1.400"/>
<path class="n" d="M254 266L252.5 280" style="stroke-width:1.400"/>
<path class="k" d="M264 266.5L269.3 269L269.8 280L264 279.5Z"/>
<rect class="w" x="265.3" y="272" width="2.8" height="5" style="stroke:none"/>
<path class="n" d="M264.5 263L267 266.5"/>
<path class="n" d="M258 286L258.3 293.5L263.5 293.5"/>
<path class="k" d="M264.5 287L270 288.5L275.5 292L270.5 293L266 291Z"/>
<path class="n" d="M266.5 283.5L266.5 292" style="stroke-width:1.500"/>
<path class="k" d="M267 296L272 297.5L276 300.5L271.5 300L268 298Z"/>
</g>
<g id="c200">
<path class="w" d="M376.3 252.5L376.8 246.5L380 246L380.3 244.5L384 244L389 245.5L416 246L416.5 244.8L421 244.8L421.5 246L462 246.5L462.5 245L468 245L468.5 246.5L499 246L505 244.3L509 245L510.8 247.5L511 252" style="stroke-width:1.100"/>
<path class="n" d="M377 248.5L510.5 248.7" style="stroke-width:1.400"/>
<circle class="w" cx="386.5" cy="242.4" r="2.4"/>
<circle class="t" cx="386.5" cy="242.4" r="1"/>
<circle class="w" cx="502.7" cy="243.3" r="2.4"/>
<circle class="t" cx="502.7" cy="243.3" r="1"/>
<rect class="k" x="377.5" y="243.5" width="3" height="2.5"/>
<rect class="k" x="507.5" y="245" width="2.5" height="2.5"/>
<path class="n" d="M417 245.5L421 245.5" style="stroke-width:1.600"/>
<path class="n" d="M463 246L468 246" style="stroke-width:1.600"/>
<circle class="w" cx="417.8" cy="279.3" r="2.7"/>
<circle class="t" cx="417.8" cy="279.3" r="1.2"/>
<circle class="w" cx="424.3" cy="277.8" r="2.7"/>
<circle class="t" cx="424.3" cy="277.8" r="1.2"/>
<circle class="w" cx="462.1" cy="277.8" r="2.7"/>
<circle class="t" cx="462.1" cy="277.8" r="1.2"/>
<circle class="w" cx="469.1" cy="280.2" r="2.7"/>
<circle class="t" cx="469.1" cy="280.2" r="1.2"/>
<path class="n" d="M381 269C382.5 269.9 385.2 273.2 390 274.5C394.8 275.8 401.7 276.3 410 276.8C418.3 277.3 429.2 277.7 440 277.7C450.8 277.7 466 277.4 475 276.8C484 276.2 489.3 275.3 494 274C498.7 272.7 501.5 269.8 503 269" style="stroke-width:2.200"/>
<path class="n" d="M387 273.5L390 273.8" style="stroke-width:1.600"/>
<path class="n" d="M397 273.5L400 273.8" style="stroke-width:1.600"/>
<path class="n" d="M408 273.5L411 273.8" style="stroke-width:1.600"/>
<path class="n" d="M430 273.5L433 273.8" style="stroke-width:1.600"/>
<path class="n" d="M441 273.5L444 273.8" style="stroke-width:1.600"/>
<path class="n" d="M452 273.5L455 273.8" style="stroke-width:1.600"/>
<path class="n" d="M476 273.5L479 273.8" style="stroke-width:1.600"/>
<path class="n" d="M487 273.5L490 273.8" style="stroke-width:1.600"/>
<path class="w" style="stroke-width:2" d="M374.700 252.700L440 251.300L511.300 251C511.600 260 508.500 267.500 502.400 270.800C500.500 271.800 499 272 497.200 272L440 272.600L388 272.100C386 272.100 384.500 271.800 383.300 271C377.500 267.500 374.500 261 374.700 252.700Z"/>
<path class="t" d="M376.8 254C387.3 253.8 418.2 253.1 440 252.8C461.8 252.6 496.2 252.6 507.5 252.5"/>
<rect class="n" x="398" y="254" width="87" height="3" rx="1.5" style="stroke-width:1.100"/>
<path class="n" d="M399.5 255.5L483.5 255.5" style="stroke-width:1.200"/>
<rect class="k" x="378.3" y="254.3" width="6.2" height="3.2" rx="1.5"/>
<rect class="k" x="385.3" y="254.3" width="6.2" height="3.2" rx="1.5"/>
<path class="wl" d="M379.8 255.8L383 255.8" style="stroke-width:.6"/>
<path class="wl" d="M386.8 255.8L390 255.8" style="stroke-width:.6"/>
<path class="t" d="M377 259L507 258.5"/>
<path class="w" d="M380.9 260.8L394.8 260.8L396 269.1L380.7 269.1Z" style="stroke-width:1.300"/>
<path class="n" d="M386.1 265L390.9 265" style="stroke-width:1.800;stroke-linecap:butt"/>
<path class="w" d="M395.9 260.8L409.5 260.8L410.7 269.1L395.7 269.1Z" style="stroke-width:1.300"/>
<path class="n" d="M400.9 265L405.7 265" style="stroke-width:1.800;stroke-linecap:butt"/>
<path class="w" d="M410.6 260.8L424.3 260.8L425.5 269.1L410.4 269.1Z" style="stroke-width:1.300"/>
<path class="n" d="M415.7 265L420.5 265" style="stroke-width:1.800;stroke-linecap:butt"/>
<path class="w" d="M457.1 260.8L470.5 260.8L467.5 269.1L454.6 269.1Z" style="stroke-width:1.300"/>
<path class="w" d="M472.1 260.8L486.2 260.8L483.2 269.1L469.6 269.1Z" style="stroke-width:1.300"/>
<path class="w" d="M488.5 260.8L501.8 260.8L498.8 269.1L486 269.1Z" style="stroke-width:1.300"/>
<path class="n" d="M461 265.5L464.5 265.5" style="stroke-width:1.800;stroke-linecap:butt"/>
<path class="n" d="M474.5 265.8C475 265.5 476.4 263.8 477.5 263.8C478.6 263.8 480.4 265.5 481 265.8" style="stroke-width:1.500"/>
<path class="n" d="M475 266.5L480.5 266.5" style="stroke-width:1.200"/>
<path class="n" d="M490.5 267.8L494.5 262.3L497.8 267.8Z" style="stroke-width:1.200"/>
<path class="k" d="M492.5 266.8L494.5 264L496.2 266.8Z" style="stroke-width:.4"/>
<circle class="k" cx="429.8" cy="263" r="1.3"/>
<path class="n" d="M429.8 263L429.8 268.5" style="stroke-width:2"/>
<path class="n" d="M433 264L434.5 264" style="stroke-width:1.300"/>
<path class="n" d="M435.5 266.5L445.5 266.5" style="stroke-width:2.400;stroke-linecap:butt"/>
<path class="n" d="M436.5 264.3L444.5 264.3" style="stroke-width:1"/>
<path class="n" d="M448 263.5C448.5 263.8 450.5 264.2 450.8 265C451.1 265.8 450.6 267.9 450 268.5C449.4 269.1 447.9 268.5 447.5 268.5" style="stroke-width:1.700"/>
</g>
<g id="c300">
<path class="w" style="stroke-width:1.800" d="M421.1 393.8C419.9 393.3 413.7 390.9 411.8 389.7C409.9 388.5 408.1 386 407 384.5C405.9 383 404.3 380.5 403.4 378.7C402.5 376.9 401.2 373 400.5 371C399.8 369 398.8 366.1 398.4 363.6C398 361.1 397.3 355.1 397.2 352C397.1 348.9 397.5 341.7 397.6 340.1L418.500 336.900L421.100 336.800Z"/>
<path class="w" style="stroke-width:1.800" d="M469.3 391.3C470.4 390.5 475.7 386.8 477.3 385.5C478.9 384.2 479.9 382.8 481 381.5C482.1 380.2 484.7 377.2 485.7 375.4C486.7 373.6 487.8 370.2 488.5 368C489.2 365.8 490.4 361 490.8 358.6C491.2 356.2 491.5 352.6 491.5 350C491.5 347.4 490.9 340.7 490.8 339.3L468.900 336.200L469.300 336.200Z"/>
<path class="n" d="M421 340C419.2 340.1 413.1 339.9 410 340.5C406.9 341.1 404.1 341.9 402.6 343.5C401.1 345.1 401.3 347.5 401 350C400.7 352.5 400.6 355.8 400.9 358.6C401.2 361.4 402 364.2 403 367C404 369.8 405.1 372.9 406.8 375.4C408.5 377.9 410.6 380.1 413 382C415.4 383.9 419.8 386.2 421.1 387.1" style="stroke-width:1.500"/>
<path class="n" d="M468.1 339.5C469.9 339.6 475.9 339.4 479 340C482.1 340.6 485 341.3 486.5 343C488 344.7 487.8 347.4 488 350C488.2 352.6 488.1 355.8 487.8 358.6C487.5 361.4 486.9 364.3 486 367C485.1 369.7 484.2 372.5 482.5 375C480.8 377.5 478.4 380.2 476 382C473.6 383.8 469.4 385.3 468.1 386" style="stroke-width:1.500"/>
<path class="n" d="M404 345.5L405 342L417 340.8L417.5 347" style="stroke-width:1.300"/>
<path class="t" d="M406.5 348L407 344L415 343.3"/>
<path class="n" d="M472 347L472.5 340.8L484.5 342L485.5 346" style="stroke-width:1.300"/>
<path class="t" d="M474.5 343.3L482.5 344L483 348"/>
<path class="k" d="M408 378C408.7 378.3 411.8 382.9 413 384C414.2 385.1 419.3 387.7 420 388.5C420.7 389.3 420.9 392.1 420 392C419.1 391.9 412.9 389.1 411.5 388C410.1 386.9 406.4 382 406 381C405.6 380 407.3 377.7 408 378Z"/>
<path class="k" d="M481.5 378C480.8 378.3 477.7 383 476.5 384C475.3 385 470.2 387.3 469.5 388C468.8 388.7 468.6 391.1 469.5 391C470.4 390.9 476.6 388 478 387C479.4 386 483.1 381.9 483.5 381C483.9 380.1 482.2 377.7 481.5 378Z"/>
<path class="wl" d="M410.5 382.5L416 387" style="stroke-width:.7"/>
<path class="wl" d="M479 382.5L473.5 387" style="stroke-width:.7"/>
<path class="w" d="M421.1 336.8L444.6 335L469.3 336.2L469.3 392L421.1 392Z" style="stroke:none"/>
<path class="n" d="M397.6 340.1C401.1 339.6 410.7 337.8 418.5 336.9C426.3 336 436.2 335.1 444.6 335C453 334.9 461.2 335.5 468.9 336.2C476.6 336.9 487.1 338.8 490.8 339.3" style="stroke-width:2.200"/>
<path class="n" d="M421.3 336.8L421.3 392L423.5 414" style="stroke-width:2.800"/>
<path class="n" d="M469.3 336.5L469.3 391L467 414" style="stroke-width:2.800"/>
<path class="t" d="M424.5 338L424.5 369"/>
<path class="t" d="M465 338L465 369"/>
<path class="k" style="stroke-width:.6" d="M428.400 349C429 357 435 364.200 444.600 364.200C454.500 364.200 460.500 357 461 349C459.500 355.500 453.500 360.300 444.600 360.300C436 360.300 430 355.500 428.400 349Z"/>
<path class="t" d="M430 363.3C430.5 363.7 431.8 364.9 433 365.5C434.2 366.1 436.3 366.7 437 366.9"/>
<path class="t" d="M449.5 366.9C450.4 366.6 453.3 365.8 455 365C456.7 364.2 458.8 362.5 459.6 362"/>
<ellipse class="w" cx="444.600" cy="347.600" rx="16.100" ry="13.200" style="stroke-width:1.100"/>
<ellipse class="n" cx="444.600" cy="347.200" rx="14.700" ry="12" style="stroke-width:1"/>
<ellipse class="n" cx="444.600" cy="346.800" rx="13.300" ry="10.800" style="stroke-width:1.100"/>
<path class="n" d="M425.5 340.5L429.5 339.5L426 347" style="stroke-width:1.300"/>
<path class="n" d="M461 339.5L463 346L466 350L464 352.5" style="stroke-width:1.300"/>
<path class="n" d="M421.1 370.8L469.3 370.8" style="stroke-width:2.700;stroke-linecap:butt"/>
<path class="t" d="M421.1 374L469.3 374"/>
<path class="n" d="M426.5 378.5C426.7 377.7 427.9 375.9 429 375.5C430.1 375.1 434.6 374.7 436 375C437.4 375.3 440.2 377.2 441 378C441.8 378.8 443.4 381.3 443 382C442.6 382.7 439.5 383.8 438 384C436.5 384.2 431.3 384.2 430 384C428.7 383.8 427.4 383.1 427 382.5C426.6 381.9 426.3 379.3 426.5 378.5Z" style="stroke-width:1.900"/>
<path class="n" d="M462.5 378.5C462.3 377.7 461.1 375.9 460 375.5C458.9 375.1 454.4 374.7 453 375C451.6 375.3 448.8 377.2 448 378C447.2 378.8 445.6 381.3 446 382C446.4 382.7 449.5 383.8 451 384C452.5 384.2 457.7 384.2 459 384C460.3 383.8 461.6 383.1 462 382.5C462.4 381.9 462.7 379.3 462.5 378.5Z" style="stroke-width:1.900"/>
<path class="k" d="M439 374.5L444.5 381L450 374.5Z"/>
<path class="n" d="M444.5 373.5L444.5 377.5"/>
<path class="n" d="M427.8 385L463.9 385" style="stroke-width:1.500"/>
<path class="n" d="M438.5 385L440 390L449.5 390L451 385"/>
<path class="n" d="M435.3 388L435.3 392.2L455.5 392.2L455.5 388"/>
<path class="w" d="M419.4 392.2L419 400L421.5 402L421 414.5L429.5 415.7L430.3 405.6L431.5 404L431.5 397L428 396L427.5 392.2Z" style="stroke-width:1.200"/>
<path class="w" d="M470.6 392.2L471 400L468.5 402L469 414.5L460.5 415.7L459.7 405.6L458.5 404L458.5 397L462 396L462.5 392.2Z" style="stroke-width:1.200"/>
<path class="n" d="M423.5 393L423.5 414" style="stroke-width:2"/>
<path class="n" d="M466.5 393L466.5 414" style="stroke-width:2"/>
<path class="n" d="M426 399L426 411" style="stroke-width:1.500"/>
<path class="n" d="M464 399L464 411" style="stroke-width:1.500"/>
<path class="n" d="M431.5 398.5L434.5 398.5L434.5 405.6"/>
<path class="n" d="M458.5 398.5L455.5 398.5L455.5 405.6"/>
<path class="n" d="M430.3 405.6L459.7 405.6" style="stroke-width:1.100"/>
<path class="t" d="M415.5 409L424 409"/>
<path class="t" d="M419.5 405.5L419.5 413"/>
<path class="t" d="M466 409L475 409"/>
<path class="t" d="M470.5 405.5L470.5 413"/>
</g>
<g id="arrows">
<path class="k" style="stroke-width:.5" d="M378 364L379.700 367.800C387 362.500 396 361.200 405.200 362.500L404.500 364.600L415 364.500L406.400 357.200L406 359.800C396 358.500 386 359.500 378 364Z"/>
<path class="k" style="stroke-width:.5" d="M513.500 355L510.800 361.200C503 356.500 494 355.500 485.500 357.800L485.200 360.500L476.500 361.600L484 353L484.600 355.500C494 353 505 352.500 513.500 355Z"/>
</g>
<g id="c240">
<path class="w" d="M357.8 342.8C358.4 341.7 362.9 341.4 364.1 341.4C365.3 341.4 368.8 342.1 370 342.5C371.2 342.9 375.5 343.6 376.2 344.9C376.9 346.1 376.9 353.2 377 355C377.1 356.8 377.1 361.7 376.9 363.3C376.6 364.9 374.9 369.6 374.5 371C374.1 372.4 373.2 375.7 373.3 377.4C373.4 379.1 374.7 386 375 388C375.3 390 376.1 395.5 376.2 397.2C376.2 398.9 375.7 403.7 375.5 405C375.3 406.3 374.9 409.4 374 410C373.1 410.6 368.1 411.1 367 410.7C365.9 410.3 363.9 407.1 363.4 405.7C362.8 404.3 361.8 398.7 361.5 397C361.2 395.3 360.8 390.9 360.6 388.7C360.4 386.5 359.5 377.5 359.3 375C359.1 372.5 358.6 365.6 358.5 363.3C358.4 361 357.9 354.1 357.8 352C357.7 349.9 357.2 343.9 357.8 342.8Z" style="stroke-width:1.500"/>
<path class="n" d="M359.5 343C359.6 346.3 359.6 355.5 360 363C360.4 370.5 361.2 381.2 362 388C362.8 394.8 364.1 401.3 364.5 404" style="stroke-width:1.800"/>
<path class="n" d="M371.5 344C371.6 347 372.2 356.5 372 362C371.8 367.5 370 371.2 370 377C370 382.8 371.8 391.8 372 397C372.2 402.2 371.2 406.2 371 408" style="stroke-width:1.300"/>
<path class="k" d="M372 344.5L376 345.5L376.7 363L374.3 371L372.3 363Z"/>
<path class="wl" d="M374.3 348L374.6 361" style="stroke-width:.6"/>
<path class="t" d="M373 380L374.5 396"/>
<rect class="k" x="362" y="348.4" width="6.6" height="7.8"/>
<path class="wl" d="M362.5 350.5L368 350.5" style="stroke-width:.5"/>
<path class="wl" d="M362.5 352.5L368 352.5" style="stroke-width:.5"/>
<path class="n" d="M363.5 345L366.5 345" style="stroke-width:1.200"/>
<path class="n" d="M360 362.6L372 362.6" style="stroke-width:1.100"/>
<path class="n" d="M363.6 368.1L367.7 368.1" style="stroke-width:1.600;stroke-linecap:butt"/>
<path class="n" d="M360.8 373.2L370.5 373.2" style="stroke-width:1.100"/>
<circle class="k" cx="365.8" cy="379.8" r="1.6"/>
<path class="t" d="M364.5 376.5L367 376.5"/>
<path class="n" d="M361.5 385.2L370.8 385.2" style="stroke-width:1.100"/>
<rect class="k" x="364.9" y="389.5" width="4" height="4.2"/>
<path class="n" d="M363 397L371.5 402" style="stroke-width:1.100"/>
<path class="n" d="M365.5 404L372.5 402.5L373.5 408.5L367.5 409.8Z" style="stroke-width:1.200"/>
</g>
<g id="c260">
<path class="w" d="M515.8 340.5C516.6 339.1 522.1 337.8 523.4 337.5C524.7 337.2 527.9 337.8 529 338C530.1 338.2 534 338.6 534.6 339.8C535.2 341 534.9 348 534.8 350C534.7 352 534.2 357.9 533.9 360.1C533.6 362.3 532.4 369.8 532 372C531.6 374.2 530.5 380.7 530.1 382.6C529.8 384.5 528.9 389.4 528.5 391C528.1 392.6 527 397.7 526.4 399.1C525.8 400.5 523.8 404.7 522.6 405.2C521.4 405.7 515.3 405 514.3 404.4C513.3 403.8 513.1 400 513 399C512.9 398 512.7 396.5 512.8 394.6C512.9 392.7 513.6 382.7 513.8 380C514 377.3 515 370.4 515.1 367.6C515.2 364.8 515.2 354.7 515.3 352C515.4 349.3 515 341.9 515.8 340.5Z" style="stroke-width:1.500"/>
<path class="n" d="M519.5 340C519.5 343.3 519.6 353 519.3 360C519 367 518 375.5 517.5 382C517 388.5 516.2 396.2 516 399" style="stroke-width:1.600"/>
<path class="k" d="M516.3 341.5L519.3 340.3L519 362L517.3 384L515.5 398L513.5 397L514.5 380L515.8 362Z"/>
<path class="wl" d="M517.5 344L517.3 360" style="stroke-width:.6"/>
<path class="n" d="M532.8 341C532.7 344.2 532.7 353.2 532 360C531.3 366.8 529.8 375.5 528.5 382C527.2 388.5 525.2 396.2 524.5 399" style="stroke-width:1.100"/>
<rect class="k" x="522.6" y="346.5" width="9" height="5.3"/>
<path class="wl" d="M524 348.3L530.3 348.3" style="stroke-width:.6"/>
<path class="wl" d="M524 350L530.3 350" style="stroke-width:.6"/>
<path class="t" d="M525.5 343L529.5 343"/>
<path class="n" d="M523.3 356.2L530.8 356.2" style="stroke-width:1.600;stroke-linecap:butt"/>
<path class="n" d="M519.5 359.3L532.5 359.3" style="stroke-width:1.100"/>
<circle class="k" cx="525.6" cy="365.5" r="2.2"/>
<path class="t" d="M524.5 362L527 362"/>
<path class="n" d="M519 371.3L531.5 371.3" style="stroke-width:1.100"/>
<path class="n" d="M518 382.6L529.5 382.6" style="stroke-width:1.100"/>
<path class="k" d="M520.4 386.4L525.6 386.4L525.3 389.5L523 391.8L520.7 389.5Z"/>
<path class="n" d="M516.5 397.5C517.6 397.1 521.1 396.2 523 395C524.9 393.8 527.1 390.9 527.9 390.1" style="stroke-width:1.100"/>
<path class="n" d="M515.1 400.6L522.6 401L522.3 405.1L514.9 404.4Z" style="stroke-width:1.300"/>
</g>
<g id="c310">
<ellipse class="w" cx="423.300" cy="445.900" rx="7.800" ry="6.500" style="stroke-width:1.200"/>
<ellipse class="n" cx="423.400" cy="445.700" rx="5.300" ry="4.300"/>
<path class="w" d="M420 445L420 432.500C420 429.800 421.500 428.500 424 428.500C426.600 428.500 428.100 429.800 428.100 432.500L428.100 445C426.500 446.800 421.500 446.800 420 445Z"/>
<ellipse class="n" cx="424" cy="432" rx="2.300" ry="2.600"/>
<path class="n" d="M420 435C420.7 435.2 422.6 436.3 424 436.3C425.4 436.3 427.4 435.2 428.1 435"/>
<path class="n" d="M420 438.5C420.7 438.7 422.6 439.8 424 439.8C425.4 439.8 427.4 438.7 428.1 438.5"/>
<path class="t" d="M420 441.5C420.7 441.7 422.6 442.8 424 442.8C425.4 442.8 427.4 441.7 428.1 441.5"/>
</g>
<g id="c350">
<ellipse class="w" cx="431.300" cy="558" rx="8.300" ry="5.700" style="stroke-width:1.300"/>
<ellipse class="n" cx="431.300" cy="558.800" rx="5.900" ry="3.900"/>
<path class="n" d="M428.5 558L431.3 556.8L434.1 558L434.1 561L431.3 562.2L428.5 561Z"/>
<path class="w" d="M427.200 553.500L427.200 536.500C427.200 534 428.800 533.200 431.500 533.200C434.300 533.200 435.900 534 435.900 536.500L435.900 553.500C434 555 429 555 427.200 553.500Z"/>
<path class="t" d="M427.2 538C427.9 538.2 430.1 539 431.5 539C432.9 539 435.2 538.2 435.9 538"/>
<path class="t" d="M427.2 541.5C427.9 541.7 430.1 542.5 431.5 542.5C432.9 542.5 435.2 541.7 435.9 541.5"/>
<path class="t" d="M427.2 545C427.9 545.2 430.1 546 431.5 546C432.9 546 435.2 545.2 435.9 545"/>
<path class="t" d="M427.2 548.5C427.9 548.7 430.1 549.5 431.5 549.5C432.9 549.5 435.2 548.7 435.9 548.5"/>
<path class="t" d="M427.2 552C427.9 552.2 430.1 553 431.5 553C432.9 553 435.2 552.2 435.9 552"/>
</g>
<g id="c340">
<path class="w" d="M423.3 485.5L421.8 487.5L425.4 509L427.5 509Z" style="stroke-width:1.400"/>
<path class="w" d="M466.7 485.5L468.3 497.4L465.8 509L463.8 509Z" style="stroke-width:1.200"/>
<path class="w" d="M426.9 508L427.5 521L430.8 523.2L431.5 527L438.5 531.5L441 531.5L441.5 529L447.6 529.5L452 529L452.7 531.3L455.5 531.3L460 527L460.5 523.2L464.5 521L465.6 508Z" style="stroke-width:1"/>
<path class="t" d="M433 510L433 528"/>
<path class="t" d="M437.5 510L437.5 530"/>
<path class="t" d="M443 510L443 529"/>
<path class="t" d="M451 510L451 529"/>
<path class="t" d="M456 510L456 530"/>
<path class="t" d="M460 510L460 527"/>
<path class="n" d="M429.5 511L429.5 521"/>
<path class="n" d="M463 511L463 521"/>
<circle class="n" cx="428.5" cy="510.5" r="1"/>
<circle class="n" cx="464" cy="510.5" r="1"/>
<path class="n" d="M435 512L435.5 520" style="stroke-width:1.300"/>
<path class="n" d="M458 512L457.5 520" style="stroke-width:1.300"/>
<rect class="k" x="431" y="522.5" width="2.5" height="2"/>
<rect class="k" x="457.5" y="522.5" width="2.5" height="2"/>
<path class="w" d="M426.9 509C425.9 507.3 425.6 498 425.6 494.8C425.6 491.6 426.5 479.8 426.9 476.8C427.3 473.8 429.3 466.3 430 464.5C430.7 462.7 432.8 459.4 433.6 458.6C434.4 457.8 436.8 457 438 456.7C439.2 456.4 444.4 456 446 456C447.6 456 452.8 456.4 454 456.7C455.2 457 456.9 457.8 457.6 458.6C458.3 459.4 460.2 463.2 460.8 465C461.4 466.8 462.5 473.8 463.1 476.8C463.7 479.8 466.6 491.6 466.9 494.8C467.1 498 466.7 507.3 465.6 509C464.5 510.7 458 511.6 456 512C454 512.4 448 513 446 513C444 513 437.9 512.4 436 512C434.1 511.6 427.9 510.7 426.9 509Z" style="stroke-width:1"/>
<path class="n" d="M430.8 484.5C430.2 483.1 430.5 476.1 430.8 474C431.1 471.9 432.9 465.3 433.4 463.9C433.9 462.5 435.5 460.5 436 460C436.5 459.5 437.5 458.9 438.5 458.7C439.5 458.5 444.4 458.2 446 458.2C447.6 458.2 452.9 458.4 454 458.7C455.1 459 456.9 460.2 457.5 461C458.1 461.8 460.1 465.1 460.5 466.5C460.9 467.9 461.9 473.2 462 475C462.1 476.8 462.5 483.2 461.8 484.5C461.1 485.8 456.6 487.1 455 487.5C453.4 487.9 448.1 488.4 446.3 488.4C444.5 488.4 438.6 487.9 437 487.5C435.4 487.1 431.4 485.9 430.8 484.5Z"/>
<path class="n" d="M427 480C427.2 481.7 427.4 487.1 428 490C428.6 492.9 429.1 495.8 430.8 497.4C432.5 499 435.4 499.1 438 499.5C440.6 499.9 443.5 500.1 446.3 500C449.1 499.9 452.2 499.6 455 499C457.8 498.4 461.5 497.9 463.1 496.1C464.7 494.3 464.4 490.9 464.5 488C464.6 485.1 464.1 480.5 464 479"/>
<path class="t" d="M430.8 484.5L430.8 497.4"/>
<path class="t" d="M461.8 484.5L463 496"/>
<path class="n" d="M445.2 492.2L447.4 492.2" style="stroke-width:1.100"/>
<path class="t" d="M446.3 492.5L446.3 494"/>
<path class="k" d="M457 492.8L457.9 491.5L458.8 492.8Z" style="stroke-width:.4"/>
<path class="t" d="M428.5 501C429.9 501.6 434 503.8 437 504.5C440 505.2 443.1 505.3 446.3 505.3C449.5 505.3 453 505.2 456 504.5C459 503.8 463.1 501.6 464.5 501"/>
</g>
<g id="c380">
<rect class="k" x="590.7" y="147.2" width="15.5" height="3" rx="0.5"/>
<rect class="w" x="581.5" y="150" width="62" height="15.1" rx="1" style="stroke-width:1.200"/>
<rect class="n" x="593.6" y="152.5" width="33.2" height="10.4" style="stroke-width:1.100"/>
<path class="n" d="M604.7 152.5L604.7 162.9" style="stroke-width:1.100"/>
<path class="n" d="M616.5 152.5L616.5 162.9" style="stroke-width:1.100"/>
<rect class="n" x="595.4" y="153.6" width="7.8" height="8.5"/>
<rect class="n" x="618" y="153.6" width="7.4" height="8.5"/>
<rect class="n" x="605.5" y="153.3" width="10.3" height="9"/>
<path class="n" d="M607 155.5C607.6 155.3 609.4 154.4 610.5 154.5C611.6 154.6 613.2 155.2 613.5 156C613.8 156.8 612.8 158.2 612 159C611.2 159.8 609.1 160.2 608.5 160.5" style="stroke-width:1.200"/>
<path class="n" d="M607 160.5L613.5 155" style="stroke-width:1.100"/>
<circle class="k" cx="612.5" cy="160.3" r="1.1"/>
<circle class="k" cx="608" cy="157.5" r="0.8"/>
<ellipse class="k" cx="587.700" cy="157.800" rx="1.500" ry="2.300"/>
<path class="wl" d="M587.7 156.5L587.7 159" style="stroke-width:.5"/>
<rect class="k" x="632.8" y="157.8" width="4.8" height="3" rx="0.6"/>
<path class="n" d="M636.5 158C636.5 157.6 636.5 155.9 636.8 155.3C637.1 154.7 638 154.5 638.5 154.5C639 154.5 639.6 155.3 639.8 155.5" style="stroke-width:1.100"/>
</g>
<g id="c390">
<path class="w" d="M575.9 179.9L579.6 175.1L581.1 180.6Z" style="stroke-width:1"/>
<path class="w" d="M647.5 180.6L649 175.1L651.9 179.9Z" style="stroke-width:1"/>
<path class="n" d="M577.3 180C577.4 180.6 578.8 194 579 195C579.2 196 581 205.5 581.1 206C581.2 206.5 582.4 208.1 582.5 208.2C582.6 208.3 582 208.6 584.5 208.6C587 208.6 642.5 208.6 645 208.6C647.5 208.6 646.6 208.1 646.7 208C646.8 207.9 647.7 206.5 647.8 206C647.9 205.5 649.2 196 649.3 195C649.4 194 650.5 180.6 650.5 180" style="stroke-width:1"/>
<path class="n" d="M579.8 180.5C580 182.9 580.8 190.8 581.3 195C581.8 199.2 582.7 203.8 583 205.5"/>
<path class="n" d="M648.2 180.5C648 182.9 647.4 190.8 647 195C646.6 199.2 645.8 203.8 645.6 205.5"/>
<path class="n" d="M580.5 183.5L647.8 183.5"/>
<rect class="n" x="583.6" y="190.8" width="60.9" height="14" rx="0.5" style="stroke-width:1.700"/>
<path class="n" d="M583.6 191L644.5 191" style="stroke-width:2.400"/>
<path class="wl" d="M590 192.8L608 192.8" style="stroke-width:.5"/>
<path class="n" d="M604.2 208.6L604.8 210.8L624 210.8L624.6 208.6"/>
</g>
<g id="c450">
<rect class="w" x="533.6" y="519.6" width="10.4" height="3.4" style="stroke-width:1"/>
<path class="n" d="M536 520L536 522.5" style="stroke-width:1.200"/>
<path class="n" d="M538.5 520L538.5 522.5" style="stroke-width:1.200"/>
<path class="n" d="M541 520L541 522.5" style="stroke-width:1.200"/>
<path class="w" d="M492.8 531.6L487 531.6L486.4 533L487 535.6L492.8 535.6" style="stroke-width:1.100"/>
<path class="w" d="M492.8 539.5L487 539.5L486.4 541L487 544.2L492.8 544.2" style="stroke-width:1.100"/>
<path class="w" d="M491.5 536.4L491.5 545L494 546L526 546.2L529.6 545L552 545.2L556.8 546.2L562.5 546L563.9 544L563.9 536.4Z" style="stroke-width:1.200"/>
<rect class="n" x="502.4" y="537.2" width="17.6" height="6.4"/>
<rect class="n" x="496.8" y="538" width="4" height="6.8"/>
<path class="t" d="M498.8 539.5L498.8 544"/>
<rect class="n" x="520.8" y="538" width="4" height="6.8"/>
<circle class="t" cx="522.8" cy="540" r="1"/>
<rect class="k" x="529.6" y="538.8" width="20.8" height="5.2"/>
<path class="wl" d="M531 540.5L549 540.5" style="stroke-width:.6"/>
<path class="wl" d="M537.5 539L537.5 544" style="stroke-width:.8"/>
<path class="wl" d="M543.5 539L543.5 544" style="stroke-width:.8"/>
<rect class="k" x="534.5" y="544.5" width="3.5" height="2.5"/>
<rect class="k" x="545" y="544.5" width="3.5" height="2"/>
<rect class="n" x="551.5" y="538" width="3" height="6"/>
<path class="n" d="M556.8 538.8L556.8 546L563 546L563 538.8" style="stroke-width:1.500"/>
<path class="n" d="M559.5 540L559.5 543"/>
<path class="w" d="M563.9 525.2L566.5 525.5L567.3 527L567.3 539L566.5 540.4L563.9 540.4" style="stroke-width:1"/>
<path class="t" d="M565.5 528L565.5 538"/>
<path class="w" d="M492.8 524.4L563.9 522.8L563.9 536.4L492.8 536.4Z" style="stroke-width:1.700"/>
<path class="t" d="M494.5 526L562.3 524.6"/>
</g>
</g>

<!-- ===== LEADER LINES ===== -->
<g id="leaders">
<line class="ld" x1="50.900" y1="165.100" x2="78.300" y2="200.400"/>
<line class="ld" x1="97" y1="256" x2="64.600" y2="291.200"/>
<line class="ld" x1="133.200" y1="297.100" x2="147.500" y2="317.800"/>
<line class="ld" x1="262.300" y1="137.400" x2="257.300" y2="164.500"/>
<line class="ld" x1="360.300" y1="177.400" x2="355" y2="206"/>
<line class="ld" x1="529.300" y1="229" x2="510.300" y2="246.800"/>
</g>
<!-- ===== CONNECTOR ICONS ===== -->
<g class="con" id="connectors">
<g id="c900"><path d="M260.200 116.200L268.600 116.500L268.400 123.100L272.800 123.400L270.800 138.400L253.300 136.400L254.900 121.400L259.300 121.400Z"/><path class="a" d="M255.300 136.600C257 132.500 260 131.500 262.500 131.500C265.500 131.500 268 133.500 269 138"/></g>
<g id="c910"><path d="M358.200 156.200L367.700 157.300L367.100 162.600L370.900 163.600L369.200 177.400L351.800 174.200L353.900 160.900L357.800 161.500Z"/><path class="a" d="M353.900 174.700C355.500 171.500 358.500 170.300 361.400 170.600C364.500 171 366.800 173.500 367.700 177"/></g>
<g id="c906"><path d="M38.600 147.400L43 152.300L47.400 148.600L57.100 159.200L44.700 171.300L34.100 160.300L37.100 156.800L33.300 152.700Z"/><path class="a" d="M55.400 158C51 157.500 47.500 159.500 46 162.500C44.500 165.500 44.300 168 44.700 170.400"/></g>
<g id="c904"><path d="M57.700 286.600L72.100 297L62.900 309.600L58.900 306.700L55.400 310.800L48.500 305L52 301L48.500 298.100Z"/><path class="a" d="M58.300 287.200C57.800 291 58.800 294 60.600 295.800C63 298 66 298.600 69.200 298.100"/></g>
<g id="c908"><path d="M141.100 324.200L154.600 314.600L163.400 325.700L161 328.100L164.200 332.900L157 337.700L153.800 333.700L150.600 336.100Z"/><path class="a" d="M143.500 322.600C146 324.300 148.500 324.500 150.600 323.400C153 322 154.500 319 154.600 315.400"/></g>
<g id="c912"><path d="M533.300 211.200L536.700 214.100L540.200 210.100L547.100 215.800L543.600 220.400L546.500 223.300L536.100 234.200L523.500 221.600Z"/><path class="a" d="M524.700 222.700C527 221.300 530 221.300 532.100 222.700C535 224.800 536.200 229 535.600 233"/></g>
</g>

<!-- ===== RED ARROW ===== -->
<g id="arrow">
<line x1="513.600" y1="462.150" x2="619.300" y2="424.900" stroke="#fe0000" stroke-width="6" stroke-linecap="round"/>
<path d="M486.050 472.450L510.600 453.900L512.500 459.400L514.700 464.900L516.750 470.500Z" fill="#fe0000"/>
</g>
<!-- ===== LABELS ===== -->
<g class="lbl" id="labels">
<rect x="391.900" y="490.800" width="27" height="17" fill="#9dcde6"/>
<text x="19.500" y="141">906</text>
<text x="50.500" y="213">10</text>
<text x="66.500" y="262">40</text>
<text x="32.500" y="326">904</text>
<text x="99.500" y="286.800">80</text>
<text x="140.500" y="353">908</text>
<text x="250.500" y="110.500">900</text>
<text x="180.500" y="242">100</text>
<text x="274" y="282">902</text>
<text x="354.500" y="151">910</text>
<text x="319.700" y="200.900">140</text>
<text x="319" y="286">150</text>
<text x="532.500" y="206">912</text>
<text x="515" y="270.500">200</text>
<text x="650.300" y="164">380</text>
<text x="655.200" y="196.300">390</text>
<text x="327.600" y="395.200">240</text>
<text x="532.500" y="398">260</text>
<text x="464.500" y="427.500">300</text>
<text x="385.800" y="460">310</text>
<text x="393.500" y="505.700" style="fill:#0e3d52">340</text>
<text x="392.500" y="552">350</text>
<text x="575.300" y="539.800">450</text>
</g>

</svg>
</body>
</html>
